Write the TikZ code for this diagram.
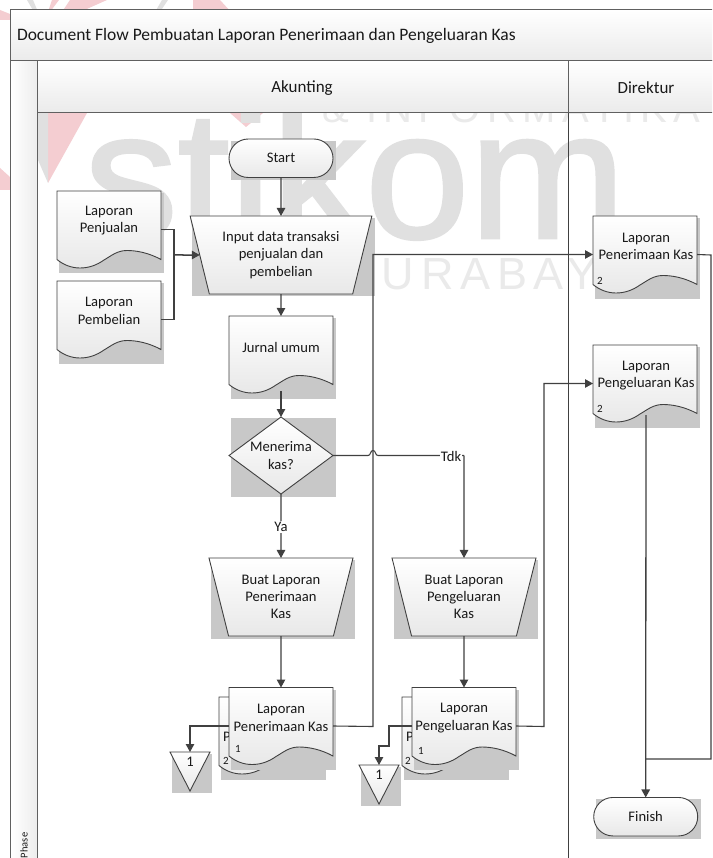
\documentclass[tikz,border=0pt]{standalone}
\usepackage{fontspec}
\setmainfont{Carlito}
\newfontfamily\wmfont{Liberation Sans}
\usetikzlibrary{arrows.meta,shapes.geometric,shapes.misc}
\definecolor{ln}{HTML}{404040}
\definecolor{fr}{HTML}{606060}
\definecolor{shd}{HTML}{C8C8C8}
\definecolor{wm}{HTML}{E0E0E0}
\definecolor{wmb}{HTML}{EAEAEA}
\definecolor{pk}{HTML}{F4CDD1}
\newcommand{\bodyfont}{\fontsize{14.6}{17.3}\selectfont}
\tikzset{
  x=1pt,y=-1pt,
  every node/.style={inner sep=0pt,outer sep=0pt,text=black!90,font=\bodyfont},
  shapeline/.style={draw=ln,line width=.9pt,top color=white,bottom color=black!9},
  flow/.style={draw=ln,line width=1.1pt,-{Triangle[length=8pt,width=8.5pt]}},
  plainflow/.style={draw=ln,line width=1.1pt},
  txt/.style={align=center},
  small/.style={font=\fontsize{11}{12}\selectfont},
  band/.style={draw=fr,line width=1pt,top color=white,bottom color=black!8},
  trapbox/.style={trapezium,shape border rotate=180,trapezium stretches=true,
    trapezium left angle=71.6,trapezium right angle=71.6,
    minimum width=#1,minimum height=78pt,shapeline,align=center},
  term/.style={rounded rectangle,minimum width=104pt,minimum height=38.5pt,shapeline},
}
% name, x, top
\newcommand{\docbox}[3]{%
\begin{scope}[shift={(#2,#3)}]
  \fill[shd] (2,2) rectangle (107,82.5);
  \path[shapeline] (0,0) -- (104,0) -- (104,68.5)
    .. controls (92,62) and (80,59.5) .. (70,59.5)
    .. controls (60,59.5) and (54,65) .. (47,69)
    .. controls (40,74) and (32,77) .. (23,77)
    .. controls (14,77) and (6,73.5) .. (0,68.5) -- cycle;
  \node[minimum width=104pt,minimum height=77pt,anchor=north west] (#1) at (0,0) {};
\end{scope}}
\newcommand{\doctext}[3]{\node[txt] (#1) at (#2) {#3};}
\newcommand{\offpage}[3]{%
  \fill[shd] (#2+2,#3+2) rectangle (#2+42,#3+41);
  \path[shapeline] (#2,#3) -- (#2+40,#3) -- (#2+20,#3+39) -- cycle;
  \coordinate (#1) at (#2+20,#3);
  \node (#1T) at (#2+20,#3+9.5) {1};}
\begin{document}
\begin{tikzpicture}
\useasboundingbox (0,0) rectangle (712,858);
\clip (0,0) rectangle (712,858);
\fill[white] (0,0) rectangle (712,858);
% watermark
\fill[pk] (48,113) -- (87,113) -- (48,183) -- cycle;
\fill[pk] (230,113) -- (263,113) -- (246,127) -- cycle;
\fill[pk] (0,168) -- (10,177) -- (10,190) -- (0,190) -- cycle;
\fill[pk] (0,10) -- (10,14) -- (10,20) -- (0,20) -- cycle;
\fill[pk] (52,0) -- (59,0) -- (50,12) -- (48,12) -- cycle;
\fill[pk] (70,0) -- (107,0) -- (80,12) -- (62,12) -- cycle;
\fill[pk] (193,0) -- (220,0) -- (231,12) -- (193,12) -- cycle;
\fill[wm] (27,0) -- (33,0) -- (38,12) -- (34,12) -- cycle;
\fill[wm] (162,0) -- (168,0) -- (160,12) -- (155,12) -- cycle;
\fill[wm] (37,113) -- (48,113) -- (48,183) -- (38,160) -- cycle;
\node[anchor=base west,text=wm] (wmA) at (84,238)
  {\wmfont\addfontfeature{FakeBold=1.5}\fontsize{182}{182}\selectfont\scalebox{1.03}[1]{stikom}};
\node[anchor=base west,text=wmb] (wmB) at (322,123)
  {\wmfont\addfontfeature{LetterSpace=16}\fontsize{40}{40}\selectfont \& INFORMATIKA};
\node[anchor=base west,text=wmb] (wmC) at (345,290)
  {\wmfont\addfontfeature{LetterSpace=15}\fontsize{45}{45}\selectfont SURABAYA};
% swimlane frame
\path[draw=fr,line width=1pt,left color=white,right color=black!7] (10.5,61) rectangle (37,870);
\path[band] (10.5,10) rectangle (730,61);
\path[band] (37,61) rectangle (568,113);
\path[band] (568,61) rectangle (730,113);
\draw[ln,line width=1pt] (568,113) -- (568,870);
\node[anchor=west,font=\fontsize{17.5}{20}\selectfont] (title) at (17,36) {Document Flow Pembuatan Laporan Penerimaan dan Pengeluaran Kas};
\node[font=\fontsize{17}{20}\selectfont] (laneA) at (302,88) {Akunting};
\node[font=\fontsize{17}{20}\selectfont] (laneB) at (646,88) {Direktur};
\node[rotate=90,anchor=west,font=\fontsize{10.5}{12}\selectfont] (phaseT) at (24,858) {Phase};
% Start
\fill[shd] (231,141) rectangle (336,180);
\node[term] (start) at (281,158.25) {Start};
% Input
\fill[shd] (192,218) rectangle (375,296);
\node[trapbox=182pt] (input) at (281,255) {Input data transaksi\\penjualan dan\\pembelian};
% left docs
\docbox{penj}{57}{191}
\doctext{penjT}{109,220.5}{Laporan\\Penjualan}
\docbox{pemb}{57}{281}
\doctext{pembT}{109,311}{Laporan\\Pembelian}
\docbox{jurnal}{229}{316}
\doctext{jurnalT}{281,347}{Jurnal umum}
% diamond
\fill[shd] (231,418) rectangle (336,497);
\node[diamond,aspect=1.35,minimum width=104pt,minimum height=77pt,shapeline,align=center] (dec) at (281,455.5) {Menerima\\kas?};
% Buat
\fill[shd] (211,560) rectangle (355,639);
\node[trapbox=144pt] (buatA) at (281,597) {Buat Laporan\\Penerimaan\\Kas};
\fill[shd] (394,560) rectangle (538,639);
\node[trapbox=144pt] (buatB) at (464,597) {Buat Laporan\\Pengeluaran\\Kas};
% bottom docs group A
\docbox{backA}{219}{697}
\node (backAP) at (227,737) {P};
\node[small] (backAn) at (226,761) {2};
\docbox{frontA}{229}{687.5}
\doctext{frontAT}{281,718}{Laporan\\Penerimaan Kas}
\node[small] (frontAn) at (238,749) {1};
% bottom docs group B
\docbox{backB}{402}{697}
\node (backBP) at (410,737) {P};
\node[small] (backBn) at (408,761) {2};
\docbox{frontB}{412}{687.5}
\doctext{frontBT}{464,718}{Laporan\\Pengeluaran Kas}
\node[small] (frontBn) at (421,750.5) {1};
% off page
\offpage{offA}{170}{752}
\offpage{offB}{359}{765}
% Direktur docs
\docbox{dirA}{593}{216}
\doctext{dirAT}{646,246.5}{Laporan\\Penerimaan Kas}
\node[small] (dirAn) at (600,281) {2};
\docbox{dirB}{593}{345}
\doctext{dirBT}{646,375.5}{Laporan\\Pengeluaran Kas}
\node[small] (dirBn) at (600,409) {2};
% Finish
\fill[shd] (596,799) rectangle (701,839);
\node[term] (finish) at (645.7,816.7) {Finish};
% connectors
\draw[flow] (start.south) -- (input.north);
\coordinate (merge) at (174,255);
\draw[plainflow] (penj.east) -| (merge);
\draw[plainflow] (pemb.east) -| (merge);
\draw[flow,line width=1.5pt] (merge) -- (input.west);
\coordinate (jurnalIn) at (281,316);
\draw[flow] (input.south) -- (jurnalIn);
\coordinate (jurnalOut) at (281,391);
\draw[flow] (jurnalOut) -- (dec.north);
\coordinate (ya) at (281,527);
\draw[flow] (dec.south) -- (buatA.north);
\node[fill=white,inner sep=1.5pt] (yaL) at (ya) {Ya};
\coordinate (jmpA) at (368,455.5);
\coordinate (jmpTop) at (373,450.5);
\coordinate (jmpB) at (378,455.5);
\coordinate (tdkCorner) at (464,455.5);
\draw[plainflow] (dec.east) -- (jmpA)
  .. controls (371,455.5) and (370,450.5) .. (jmpTop)
  .. controls (376,450.5) and (375,455.5) .. (jmpB) -- (tdkCorner);
\draw[flow] (tdkCorner) -- (buatB.north);
\node[fill=white,inner sep=1pt] (tdk) at (451,456) {Tdk};
\coordinate (fAin) at (281,687.5);
\coordinate (fBin) at (464,687.5);
\draw[flow] (buatA.south) -- (fAin);
\draw[flow] (buatB.south) -- (fBin);
\coordinate (upA) at (373,726.5);
\draw[flow] (frontA.east) -- (upA) |- (dirA.west);
\coordinate (upB) at (544,726.5);
\draw[flow] (frontB.east) -- (upB) |- (dirB.west);
\draw[flow] (frontA.west) -| (offA);
\coordinate (kneeA) at (389,746);
\draw[flow] (frontB.west) -| (kneeA) -| (offB);
\coordinate (dirBout) at (646,415);
\draw[flow,line width=1.3pt] (dirBout) -- (finish.north);
\coordinate (outEdge) at (711,255);
\coordinate (mergeF) at (646,759);
\draw[plainflow] (dirA.east) -- (outEdge) |- (mergeF);
\end{tikzpicture}
\end{document}
